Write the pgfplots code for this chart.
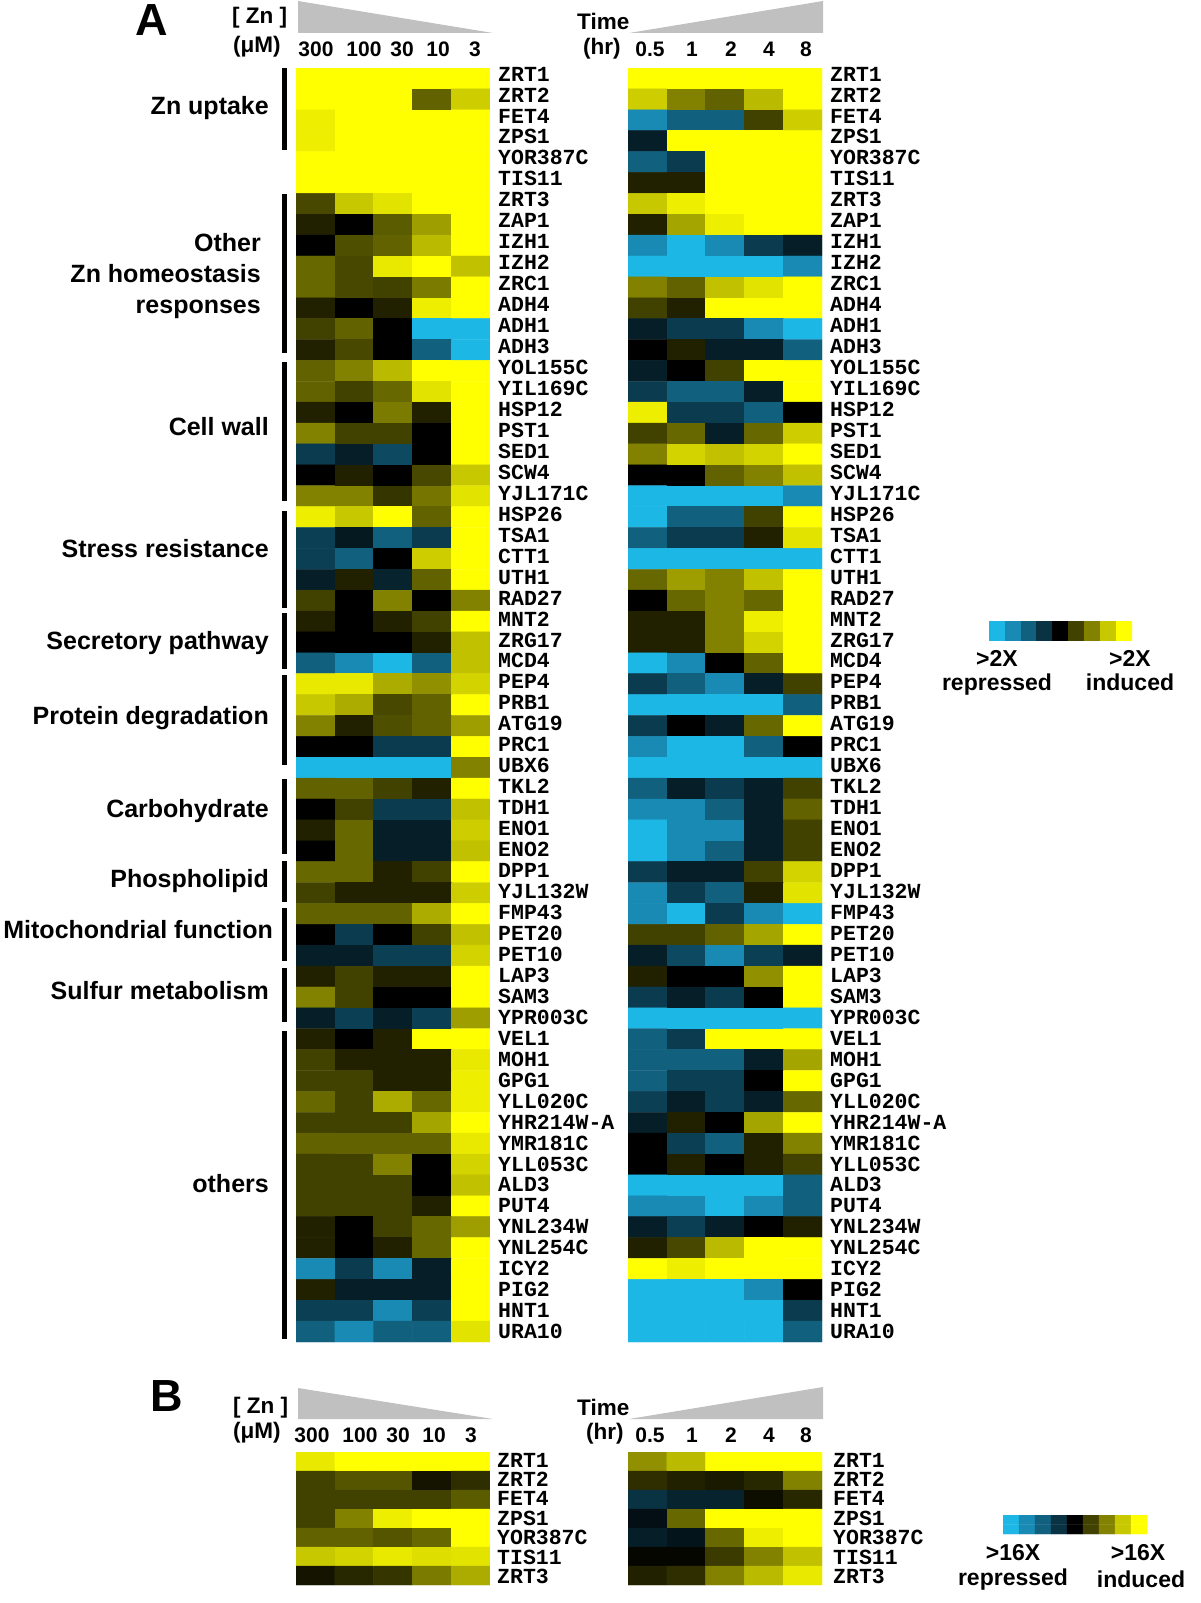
\documentclass[border=0pt]{standalone}
\usepackage{pgfplots}
\pgfplotsset{compat=1.18}
\usepackage{fontspec}
\setmainfont{Liberation Sans}
\newfontfamily\lmono{Liberation Mono}
\newcommand\genefont{\lmono\bfseries\fontsize{21.5}{22}\selectfont}
\newcommand\grpfont{\bfseries\fontsize{25}{25}\selectfont}
\newcommand\numfont{\bfseries\fontsize{21}{21}\selectfont}
\newcommand\hdfont{\bfseries\fontsize{22.5}{22.5}\selectfont}
\newcommand\legfont{\bfseries\fontsize{23}{23}\selectfont}
\definecolor{trigray}{RGB}{192,192,192}
\pgfplotsset{
  colormap={gz}{rgb255=(29,183,229) rgb255=(24,138,180) rgb255=(17,96,126) rgb255=(9,50,66) rgb255=(0,0,0) rgb255=(66,66,0) rgb255=(130,130,0) rgb255=(200,200,0) rgb255=(255,255,0)},
  hm/.style={scale only axis, width=194pt, xmin=-0.5, xmax=4.5, ymin=-0.5, y dir=reverse,
    axis lines=none, colormap name=gz, point meta min=-4, point meta max=4, anchor=north west},
  cells/.style={matrix plot*, mesh/cols=5, point meta=explicit},
}
\pgfplotstableset{cellread/.style={row sep=\\, header=false,
  x expr={\coordindex-5*floor(\coordindex/5+0.01)}, y expr={floor(\coordindex/5+0.01)}, meta index=0}}
\begin{document}
\begin{tikzpicture}
\useasboundingbox (0pt,0pt) rectangle (1200pt,-1603pt);
% ---------------- Panel A, zinc concentration ----------------
\begin{axis}[hm, at={(296pt,-68pt)}, height=1274pt, ymax=60.5]
\addplot[cells] table[cellread] {
4\\4\\4\\4\\4\\
4\\4\\4\\1.5\\3.1\\
3.7\\4\\4\\4\\4\\
3.7\\4\\4\\4\\4\\
4\\4\\4\\4\\4\\
4\\4\\4\\4\\4\\
1.1\\3\\3.5\\4\\4\\
0.5\\0\\1.4\\2.4\\4\\
0\\1.2\\1.5\\2.8\\4\\
1.6\\1.1\\3.6\\4\\2.9\\
1.6\\1.1\\1.0\\1.9\\4\\
0.5\\0\\0.5\\3.7\\4\\
1.0\\1.5\\0\\-4\\-4\\
0.5\\1.1\\0\\-2\\-4\\
1.5\\2.0\\2.8\\4\\4\\
1.5\\1.0\\1.6\\3.5\\4\\
0.5\\0\\1.9\\0.5\\4\\
2.0\\1.0\\1.0\\0\\4\\
-1.2\\-0.6\\-1.5\\0\\4\\
0\\0.5\\0\\1.1\\3.0\\
2.0\\2.0\\0.8\\1.8\\3.5\\
3.7\\3.0\\4\\1.5\\4\\
-1.3\\-0.5\\-2.0\\-1.2\\4\\
-1.3\\-2.0\\0\\3.1\\4\\
-0.6\\0.5\\-0.7\\1.5\\4\\
1.0\\0\\2.0\\0\\2.0\\
0.5\\0\\0.5\\1.0\\4\\
0\\0\\0\\0.5\\2.9\\
-2.0\\-3.0\\-4\\-2.0\\2.9\\
3.6\\3.6\\2.6\\2.2\\3.2\\
3.0\\2.6\\1.1\\1.5\\4\\
2.0\\0.5\\1.2\\1.5\\2.4\\
0\\0\\-1.2\\-1.2\\4\\
-4\\-4\\-4\\-4\\2.0\\
1.5\\1.5\\1.0\\0.5\\4\\
0\\1.0\\-1.2\\-1.2\\2.9\\
0.5\\1.6\\-0.6\\-0.6\\3.1\\
0\\1.6\\-0.6\\-0.6\\2.9\\
1.6\\1.6\\0.5\\1.0\\4\\
1.0\\0.5\\0.5\\0.5\\3.1\\
1.5\\1.5\\1.5\\2.6\\4\\
0\\-1.2\\0\\1.0\\2.9\\
-0.6\\-0.6\\-1.3\\-1.3\\3.2\\
0.5\\1.0\\0.5\\0.5\\4\\
2.0\\1.0\\0\\0\\4\\
-0.6\\-1.3\\-0.6\\-1.3\\2.4\\
0.5\\0\\0.5\\4\\4\\
1.0\\0.5\\0.5\\0.5\\3.6\\
1.0\\1.0\\0.5\\0.5\\3.7\\
1.6\\1.0\\2.6\\1.6\\3.7\\
1.0\\1.0\\1.0\\2.5\\4\\
1.5\\1.5\\1.5\\1.5\\3.6\\
1.0\\1.0\\2.0\\0\\3.2\\
1.0\\1.0\\1.0\\0\\2.9\\
1.0\\1.0\\1.0\\0.5\\4\\
0.5\\0\\1.0\\1.6\\2.4\\
0.5\\0\\0.5\\1.6\\4\\
-3.0\\-1.2\\-3.0\\-0.6\\4\\
0.5\\-0.6\\-0.6\\-0.6\\4\\
-1.3\\-1.3\\-3.0\\-1.3\\4\\
-2.0\\-3.0\\-2.0\\-2.0\\3.5\\
};
\end{axis}
% ---------------- Panel A, time ----------------
\begin{axis}[hm, at={(628pt,-68pt)}, height=1274pt, ymax=60.5]
\addplot[cells] table[cellread] {
4\\4\\4\\4\\4\\
3.1\\2.0\\1.5\\2.8\\4\\
-3.0\\-2.0\\-2.0\\1.0\\3.1\\
-0.6\\4\\4\\4\\4\\
-2.0\\-1.2\\4\\4\\4\\
0.5\\0.5\\4\\4\\4\\
3.0\\3.7\\4\\4\\4\\
0.5\\2.5\\3.7\\4\\4\\
-3.0\\-4\\-3.0\\-1.2\\-0.6\\
-4\\-4\\-4\\-4\\-3.0\\
2.0\\1.5\\2.9\\3.5\\4\\
1.0\\0.5\\4\\4\\4\\
-0.6\\-1.2\\-1.2\\-3.0\\-4\\
0\\0.5\\-0.6\\-0.6\\-2.0\\
-0.6\\0\\1.0\\4\\4\\
-1.2\\-2.0\\-2.0\\-0.6\\4\\
3.7\\-1.2\\-1.2\\-2.0\\0\\
1.0\\1.6\\-0.6\\1.6\\3.1\\
2.0\\3.2\\2.9\\3.2\\4\\
0\\0\\1.5\\2.0\\2.9\\
-4\\-4\\-4\\-4\\-3.0\\
-4\\-2.0\\-2.0\\1.0\\4\\
-2.0\\-1.2\\-1.2\\0.5\\3.5\\
-4\\-4\\-4\\-4\\-4\\
1.6\\2.4\\2.0\\2.9\\4\\
0\\1.6\\2.0\\1.6\\4\\
0.5\\0.5\\2.0\\3.7\\4\\
0.5\\0.5\\2.0\\3.2\\4\\
-4\\-3.0\\0\\1.5\\4\\
-1.2\\-2.0\\-3.0\\-0.6\\1.0\\
-4\\-4\\-4\\-4\\-2.0\\
-1.2\\0\\-0.6\\1.6\\4\\
-3.0\\-4\\-4\\-2.0\\0\\
-4\\-4\\-4\\-4\\-4\\
-2.0\\-0.6\\-1.2\\-0.6\\1.0\\
-3.0\\-3.0\\-2.0\\-0.6\\1.5\\
-4\\-3.0\\-3.0\\-0.6\\1.0\\
-4\\-3.0\\-2.0\\-0.6\\1.0\\
-1.2\\-0.6\\-0.6\\1.0\\3.2\\
-3.0\\-1.2\\-2.0\\0.5\\3.5\\
-3.0\\-4\\-1.2\\-3.0\\-4\\
1.0\\1.0\\1.5\\2.5\\4\\
-0.6\\-1.5\\-3.0\\-1.3\\-0.6\\
0.5\\0\\0\\2.2\\4\\
-1.2\\-0.6\\-1.2\\0\\4\\
-4\\-4\\-4\\-4\\-4\\
-2.0\\-1.2\\4\\4\\4\\
-2.0\\-2.0\\-2.0\\-0.6\\2.5\\
-2.0\\-1.3\\-1.3\\0\\4\\
-1.3\\-0.6\\-1.3\\-0.6\\1.6\\
-0.6\\0.5\\0\\2.5\\4\\
0\\-1.3\\-2.0\\0.5\\2.0\\
0\\0.5\\0\\0.5\\1.0\\
-4\\-4\\-4\\-4\\-2.0\\
-3.0\\-3.0\\-4\\-3.0\\-2.0\\
-0.6\\-1.3\\-0.6\\0\\0.5\\
0.5\\1.1\\2.8\\4\\4\\
4\\3.7\\4\\4\\4\\
-4\\-4\\-4\\-3.0\\0\\
-4\\-4\\-4\\-4\\-1.2\\
-4\\-4\\-4\\-4\\-2.0\\
};
\end{axis}
% ---------------- Panel B, zinc concentration ----------------
\begin{axis}[hm, at={(296pt,-1452pt)}, height=133pt, ymax=6.5]
\addplot[cells] table[cellread] {
3.6\\4\\4\\4\\4\\
1.0\\1.3\\1.3\\0.3\\0.7\\
1.0\\1.0\\1.0\\1.0\\1.4\\
1.0\\2.0\\3.7\\4\\4\\
1.5\\1.5\\1.3\\1.6\\4\\
3.0\\3.2\\3.6\\3.4\\3.5\\
0.3\\0.6\\0.8\\1.9\\2.6\\
};
\end{axis}
% ---------------- Panel B, time ----------------
\begin{axis}[hm, at={(628pt,-1452pt)}, height=133pt, ymax=6.5]
\addplot[cells] table[cellread] {
2.2\\2.8\\4\\4\\4\\
0.7\\0.5\\0.4\\0.6\\2.0\\
-1.0\\-0.7\\-0.7\\0.2\\0.6\\
-0.3\\1.6\\4\\4\\4\\
-0.6\\-0.4\\1.6\\3.7\\4\\
0.1\\0.1\\0.9\\2.0\\2.9\\
0.5\\0.7\\2.0\\2.8\\3.6\\
};
\end{axis}
% ---------------- colour keys ----------------
\begin{axis}[scale only axis, width=143pt, height=19pt, at={(989pt,-621pt)}, anchor=north west,
  xmin=-0.5, xmax=8.5, ymin=-0.5, ymax=1.5, axis lines=none, colormap name=gz,
  point meta min=-4, point meta max=4]
\addplot[matrix plot*, mesh/cols=9, point meta=explicit] table[row sep=\\, header=false,
  x expr={\coordindex-9*floor(\coordindex/9+0.01)}, y expr={floor(\coordindex/9+0.01)}, meta index=0]
{-4\\-3\\-2\\-1\\0\\1\\2\\3\\4\\-4\\-3\\-2\\-1\\0\\1\\2\\3\\4\\};
\end{axis}
\begin{axis}[scale only axis, width=144pt, height=19pt, at={(1003pt,-1515pt)}, anchor=north west,
  xmin=-0.5, xmax=8.5, ymin=-0.5, ymax=1.5, axis lines=none, colormap name=gz,
  point meta min=-4, point meta max=4]
\addplot[matrix plot*, mesh/cols=9, point meta=explicit] table[row sep=\\, header=false,
  x expr={\coordindex-9*floor(\coordindex/9+0.01)}, y expr={floor(\coordindex/9+0.01)}, meta index=0]
{-4\\-3\\-2\\-1\\0\\1\\2\\3\\4\\-4\\-3\\-2\\-1\\0\\1\\2\\3\\4\\};
\end{axis}
% ---------------- annotations ----------------
\begin{scope}[x=1pt, y=-1pt]
% panel letters
\node[font=\bfseries\fontsize{45}{45}\selectfont, inner sep=0] at (152,20) {A};
\node[font=\bfseries\fontsize{45}{45}\selectfont, inner sep=0] at (167,1396) {B};
% triangles
\fill[trigray] (298,1) -- (298,33) -- (493,33) -- cycle;
\fill[trigray] (629,33) -- (823,1) -- (823,33) -- cycle;
\fill[trigray] (298,1388) -- (298,1419) -- (493,1419) -- cycle;
\fill[trigray] (629,1419) -- (823,1387) -- (823,1419) -- cycle;
% headers
\node[font=\hdfont, anchor=west, inner sep=0] at (232,18) {[ Zn ]};
\node[font=\hdfont, anchor=west, inner sep=0] at (233,47) {(μM)};
\node[font=\hdfont, anchor=west, inner sep=0] at (577,21) {Time};
\node[font=\hdfont, anchor=west, inner sep=0] at (583,49) {(hr)};
\node[font=\hdfont, anchor=west, inner sep=0] at (233,1408) {[ Zn ]};
\node[font=\hdfont, anchor=west, inner sep=0] at (233,1433) {(μM)};
\node[font=\hdfont, anchor=west, inner sep=0] at (577,1407) {Time};
\node[font=\hdfont, anchor=west, inner sep=0] at (586,1434) {(hr)};
\foreach \t/\xx in {300/316,100/364,30/402,10/438,3/475} {
  \node[font=\numfont, inner sep=0] at (\xx,49) {\t};
  \node[font=\numfont, inner sep=0] at (\xx-4,1435) {\t};
}
\foreach \t/\xx in {0.5/650,1/692,2/731,4/769,8/806} {
  \node[font=\numfont, inner sep=0] at (\xx,49) {\t};
  \node[font=\numfont, inner sep=0] at (\xx,1435) {\t};
}
% gene labels, panel A
\foreach \g [count=\i from 0] in {ZRT1,ZRT2,FET4,ZPS1,YOR387C,TIS11,ZRT3,ZAP1,IZH1,IZH2,ZRC1,ADH4,ADH1,ADH3,YOL155C,YIL169C,HSP12,PST1,SED1,SCW4,YJL171C,HSP26,TSA1,CTT1,UTH1,RAD27,MNT2,ZRG17,MCD4,PEP4,PRB1,ATG19,PRC1,UBX6,TKL2,TDH1,ENO1,ENO2,DPP1,YJL132W,FMP43,PET20,PET10,LAP3,SAM3,YPR003C,VEL1,MOH1,GPG1,YLL020C,YHR214W-A,YMR181C,YLL053C,ALD3,PUT4,YNL234W,YNL254C,ICY2,PIG2,HNT1,URA10} {
  \node[font=\genefont, anchor=west, inner sep=0] at (498,74+\i*20.96) {\g};
  \node[font=\genefont, anchor=west, inner sep=0] at (830,74+\i*20.96) {\g};
}
% gene labels, panel B
\foreach \g [count=\i from 0] in {ZRT1,ZRT2,FET4,ZPS1,YOR387C,TIS11,ZRT3} {
  \node[font=\genefont, anchor=west, inner sep=0] at (497,1460+\i*19.4) {\g};
  \node[font=\genefont, anchor=west, inner sep=0] at (833,1460+\i*19.4) {\g};
}
% group bars
\foreach \a/\b in {68/150,194/353,362/501,511/608,613/669,675/765,779/854,861/902,908/961,968/1022,1031/1339} {
  \fill[black] (282,\a) rectangle (287,\b);
}
% group labels
\foreach \t/\yy in {Zn uptake/106,Cell wall/427,Stress resistance/549,Secretory pathway/641,Protein degradation/716,Carbohydrate/809,Phospholipid/879,Sulfur metabolism/991,others/1184} {
  \node[font=\grpfont, anchor=base east, inner sep=0] at (269,\yy+8) {\t};
}
\node[font=\grpfont, anchor=base east, inner sep=0] at (273,930+8) {Mitochondrial function};
\node[font=\grpfont, anchor=base east, inner sep=0] at (261,243+8) {Other};
\node[font=\grpfont, anchor=base east, inner sep=0] at (261,274+8) {Zn homeostasis};
\node[font=\grpfont, anchor=base east, inner sep=0] at (261,305+8) {responses};
% legend texts
\node[font=\legfont, anchor=base, inner sep=0] at (997,666) {>2X};
\node[font=\legfont, anchor=base, inner sep=0] at (997,690) {repressed};
\node[font=\legfont, anchor=base, inner sep=0] at (1130,666) {>2X};
\node[font=\legfont, anchor=base, inner sep=0] at (1130,690) {induced};
\node[font=\legfont, anchor=base, inner sep=0] at (1013,1560) {>16X};
\node[font=\legfont, anchor=base, inner sep=0] at (1013,1585) {repressed};
\node[font=\legfont, anchor=base, inner sep=0] at (1138,1560) {>16X};
\node[font=\legfont, anchor=base, inner sep=0] at (1141,1587) {induced};
\end{scope}
\end{tikzpicture}
\end{document}
